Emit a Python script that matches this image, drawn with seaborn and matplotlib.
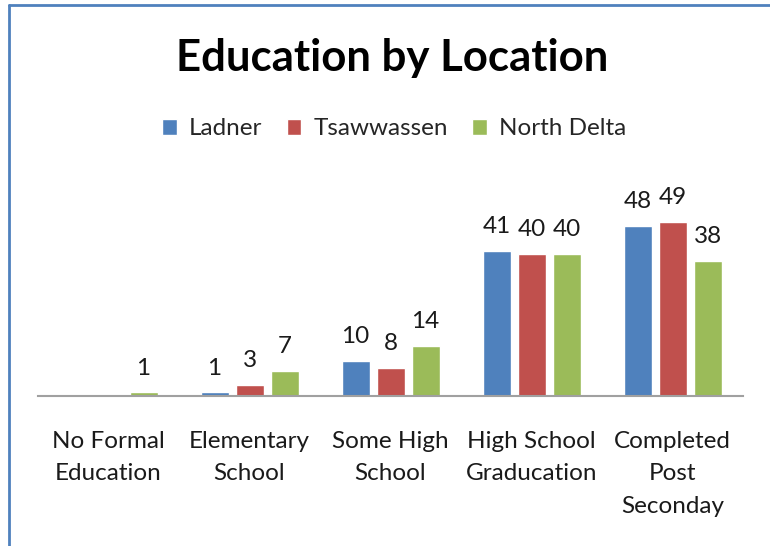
import matplotlib
matplotlib.use("Agg")
import matplotlib.pyplot as plt
from matplotlib.lines import Line2D
import seaborn as sns
import pandas as pd

categories = ["No Formal\nEducation", "Elementary\nSchool", "Some High\nSchool",
              "High School\nGraducation", "Completed\nPost\nSeconday"]
locations = ["Ladner", "Tsawwassen", "North Delta"]
ladner = [0, 1, 10, 41, 48]
tsawwassen = [0, 3, 8, 40, 49]
north_delta = [1, 7, 14, 40, 38]
colors = ["#4F81BD", "#C0504D", "#9BBB59"]

rows = []
for loc, vals in zip(locations, [ladner, tsawwassen, north_delta]):
    for cat, v in zip(categories, vals):
        rows.append({"category": cat, "location": loc, "value": v})
df = pd.DataFrame(rows)

sns.set_theme(style="white")
plt.rcParams["font.family"] = ["Lato", "DejaVu Sans"]

fig = plt.figure(figsize=(7.7, 5.46), dpi=100)
ax = fig.add_axes([0.0494, 0.2747, 0.9156, 0.39])

sns.barplot(data=df, x="category", y="value", hue="location", order=categories,
            hue_order=locations, palette=colors, width=0.745, gap=0.2,
            saturation=1, ax=ax, legend=True)

ax.set_ylim(0, 60)
ax.set_xlim(-0.5, len(categories) - 0.5)
ax.set_xlabel("")
ax.set_ylabel("")
ax.set_yticks([])
for side in ["top", "right", "left"]:
    ax.spines[side].set_visible(False)
ax.spines["bottom"].set_color("#A0A0A0")
ax.spines["bottom"].set_linewidth(1.5)
ax.tick_params(axis="x", length=0, pad=25, labelsize=17.5, labelcolor="#1a1a1a")
for lbl in ax.get_xticklabels():
    lbl.set_linespacing(1.68)

for container in ax.containers:
    labels = [f"{v:.0f}" if v > 0 else "" for v in container.datavalues]
    ax.bar_label(container, labels=labels, padding=10, fontsize=17.5, color="#1a1a1a")

leg = ax.get_legend()
handles = leg.legend_handles
leg.remove()
fig.legend(handles, locations, loc="center", bbox_to_anchor=(0.512, 0.764),
           ncol=3, frameon=False, fontsize=17.5, handlelength=0.6, handleheight=0.6,
           handletextpad=0.5, columnspacing=1.0)

fig.text(0.509, 0.893, "Education by Location", ha="center", va="center",
         fontsize=31.5, fontweight="bold", color="black")

# chart frame (left and top edges)
fig.add_artist(Line2D([0.0117, 0.0117], [0.0, 0.991], transform=fig.transFigure,
                      color="#4F81BD", linewidth=2))
fig.add_artist(Line2D([0.0117, 1.0], [0.991, 0.991], transform=fig.transFigure,
                      color="#4F81BD", linewidth=2))

fig.savefig("out.png", dpi=100)
